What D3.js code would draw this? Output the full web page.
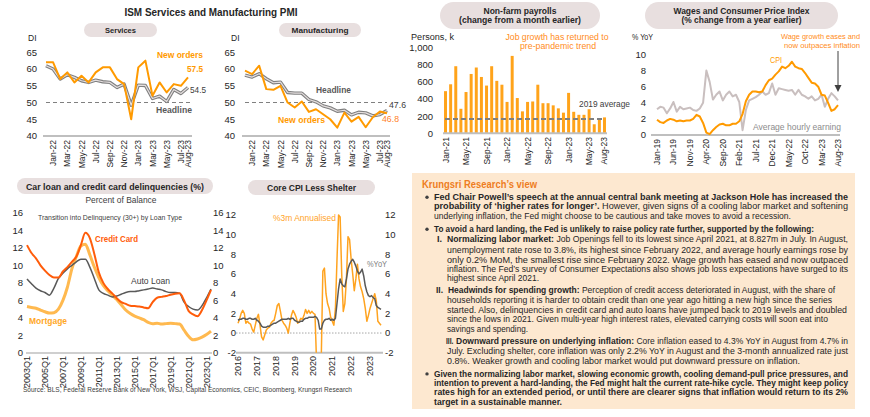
<!DOCTYPE html>
<html>
<head>
<meta charset="utf-8">
<script src="https://cdn.jsdelivr.net/npm/d3@7"></script>
<style>
  body { margin: 0; background: #fff; }
  svg { display: block; font-family: "Liberation Sans", Arial, sans-serif; }
</style>
</head>
<body>
<script>
// ---------- data ----------
const pmiMonths = ['Dec-21','Jan-22','Feb-22','Mar-22','Apr-22','May-22','Jun-22','Jul-22','Aug-22','Sep-22','Oct-22',
  'Nov-22','Dec-22','Jan-23','Feb-23','Mar-23','Apr-23','May-23','Jun-23','Jul-23','Aug-23'];
const pmiTicks = ['Jan-22','Mar-22','May-22','Jul-22','Sep-22','Nov-22','Jan-23','Mar-23','May-23','Jul-23','Aug-23'];
const svcHeadline = [61.0,60.0,57.0,58.3,57.5,56.5,56.0,56.7,56.2,56.0,54.5,55.5,49.2,55.2,55.1,51.2,51.9,50.3,53.9,52.7,54.5];
const svcNewOrders = [62.0,62.0,57.0,59.0,56.0,58.0,56.0,59.0,60.5,60.5,57.0,55.5,45.0,60.5,62.5,52.0,56.0,53.0,55.5,55.0,57.5];
const mfgHeadline = [58.2,57.6,58.6,57.1,55.9,56.1,53.0,52.8,52.8,50.9,50.2,49.0,48.4,47.4,47.7,46.3,47.1,46.9,46.0,46.4,47.6];
const mfgNewOrders = [59.5,58.5,61.0,54.0,53.8,55.0,50.0,48.5,50.3,47.2,48.0,46.5,45.0,42.5,47.0,44.3,45.7,42.6,45.6,47.3,46.8];

const nfpMonths = ['Jan-21','Feb-21','Mar-21','Apr-21','May-21','Jun-21','Jul-21','Aug-21','Sep-21','Oct-21','Nov-21','Dec-21',
  'Jan-22','Feb-22','Mar-22','Apr-22','May-22','Jun-22','Jul-22','Aug-22','Sep-22','Oct-22','Nov-22','Dec-22',
  'Jan-23','Feb-23','Mar-23','Apr-23','May-23','Jun-23','Jul-23','Aug-23'];
const nfpTicks = ['Jan-21','May-21','Sep-21','Jan-22','May-22','Sep-22','Jan-23','May-23','Aug-23'];
const nfpChange = [490,570,780,285,480,690,765,655,555,780,610,565,365,900,410,255,365,370,565,350,350,325,290,240,
  470,250,215,215,280,105,155,185];
const nfpAvg2019 = 165;

const wageMonths = ['Jan-19','Feb-19','Mar-19','Apr-19','May-19','Jun-19','Jul-19','Aug-19','Sep-19','Oct-19','Nov-19','Dec-19',
  'Jan-20','Feb-20','Mar-20','Apr-20','May-20','Jun-20','Jul-20','Aug-20','Sep-20','Oct-20','Nov-20','Dec-20',
  'Jan-21','Feb-21','Mar-21','Apr-21','May-21','Jun-21','Jul-21','Aug-21','Sep-21','Oct-21','Nov-21','Dec-21',
  'Jan-22','Feb-22','Mar-22','Apr-22','May-22','Jun-22','Jul-22','Aug-22','Sep-22','Oct-22','Nov-22','Dec-22',
  'Jan-23','Feb-23','Mar-23','Apr-23','May-23','Jun-23','Jul-23','Aug-23'];
const wageTicks = ['Jan-19','Jun-19','Nov-19','Apr-20','Sep-20','Feb-21','Jul-21','Dec-21','May-22','Oct-22','Mar-23','Aug-23'];
const cpiYoY = [1.9,1.6,1.5,1.8,2.0,1.9,1.7,1.8,1.7,1.8,1.8,2.0,
  2.5,2.3,1.5,0.3,0.1,0.6,1.0,1.3,1.4,1.2,1.2,1.4,
  1.4,1.7,2.6,4.2,5.0,5.4,5.4,5.3,5.4,6.2,6.8,7.0,
  7.5,7.9,8.5,8.3,8.6,9.1,8.5,8.3,8.2,7.7,7.1,6.5,
  6.4,6.0,5.0,4.9,4.0,3.0,3.2,3.7];
const aheYoY = [3.2,3.5,3.4,2.7,3.3,4.1,2.9,3.5,3.2,3.3,3.4,3.1,
  3.0,3.3,4.0,8.0,6.6,4.4,5.0,5.4,4.3,5.0,5.4,4.8,
  5.0,4.1,0.6,3.1,4.3,4.5,4.7,5.0,5.4,5.0,5.2,6.4,
  5.0,5.8,5.7,5.6,5.5,5.6,5.0,5.6,5.0,4.8,4.5,4.8,
  4.3,4.5,5.0,3.5,4.5,5.2,4.8,4.3];

const loanPeriods = ['2003Q1','2003Q3','2004Q1','2004Q3','2005Q1','2005Q3','2006Q1','2006Q3','2007Q1','2007Q3',
  '2008Q1','2008Q3','2009Q1','2009Q3','2010Q1','2010Q3','2011Q1','2011Q3','2012Q1','2012Q3',
  '2013Q1','2013Q3','2014Q1','2014Q3','2015Q1','2015Q3','2016Q1','2016Q3','2017Q1','2017Q3',
  '2018Q1','2018Q3','2019Q1','2019Q3','2020Q1','2020Q3','2021Q1','2021Q3','2022Q1','2022Q3','2023Q1','2023Q2'];
const loanTicks = ['2003Q1','2005Q1','2007Q1','2009Q1','2011Q1','2013Q1','2015Q1','2017Q1','2019Q1','2021Q1','2023Q1'];
const creditCard = [12.3,11.4,10.8,10.0,9.4,8.9,8.6,8.6,9.3,9.8,10.4,11.0,12.3,13.7,13.1,11.3,9.2,8.0,7.3,6.8,
  6.25,5.8,5.6,5.4,5.35,5.3,5.2,5.1,5.8,6.3,6.4,6.5,6.65,6.75,6.8,6.0,4.8,4.4,4.2,4.9,6.0,7.2];
const autoLoan = [8.45,7.9,7.4,7.1,6.9,6.6,7.4,8.5,9.1,9.6,10.0,10.4,10.7,10.7,9.8,8.5,7.2,6.8,6.6,6.4,
  6.5,6.7,6.9,7.0,7.0,7.1,7.2,7.3,7.4,7.3,7.2,7.0,6.9,6.9,6.8,5.8,5.3,5.0,4.9,5.4,6.3,7.3];
const mortgage = [5.3,5.2,5.1,4.9,4.7,4.55,4.6,5.0,6.0,7.5,9.6,11.0,12.2,12.4,11.2,9.8,8.6,7.7,7.1,6.6,
  6.1,5.5,4.9,4.5,4.2,4.0,3.8,3.5,3.35,3.4,3.3,3.35,3.4,3.35,3.3,2.6,1.9,1.5,1.6,1.8,2.1,2.5];

const coreMonths = ('Jan-16 Feb-16 Mar-16 Apr-16 May-16 Jun-16 Jul-16 Aug-16 Sep-16 Oct-16 Nov-16 Dec-16 ' +
  'Jan-17 Feb-17 Mar-17 Apr-17 May-17 Jun-17 Jul-17 Aug-17 Sep-17 Oct-17 Nov-17 Dec-17 ' +
  'Jan-18 Feb-18 Mar-18 Apr-18 May-18 Jun-18 Jul-18 Aug-18 Sep-18 Oct-18 Nov-18 Dec-18 ' +
  'Jan-19 Feb-19 Mar-19 Apr-19 May-19 Jun-19 Jul-19 Aug-19 Sep-19 Oct-19 Nov-19 Dec-19 ' +
  'Jan-20 Feb-20 Mar-20 Apr-20 May-20 Jun-20 Jul-20 Aug-20 Sep-20 Oct-20 Nov-20 Dec-20 ' +
  'Jan-21 Feb-21 Mar-21 Apr-21 May-21 Jun-21 Jul-21 Aug-21 Sep-21 Oct-21 Nov-21 Dec-21 ' +
  'Jan-22 Feb-22 Mar-22 Apr-22 May-22 Jun-22 Jul-22 Aug-22 Sep-22 Oct-22 Nov-22 Dec-22 ' +
  'Jan-23 Feb-23 Mar-23 Apr-23 May-23 Jun-23 Jul-23 Aug-23').split(' ');
const coreTicks = ['Jan-16','Jan-17','Jan-18','Jan-19','Jan-20','Jan-21','Jan-22','Jan-23'];
const coreTickLabels = ['2016','2017','2018','2019','2020','2021','2022','2023'];
const core3mAnn = [1.0,1.4,2.0,2.3,2.0,1.0,1.2,1.0,0.9,0.4,0.1,0.8,
  1.5,1.9,0.8,-0.4,-0.7,-0.2,0.3,0.5,0.6,1.0,1.2,1.3,
  2.0,2.8,3.0,2.2,1.3,1.0,0.8,0.5,0.0,1.0,1.8,2.3,
  2.0,1.6,1.0,1.2,1.5,1.4,1.8,2.4,2.0,2.3,2.0,2.2,
  2.0,1.9,-3.0,-4.0,-4.5,-2.5,6.3,6.6,4.0,3.0,2.5,1.6,
  1.2,0.8,2.5,7.5,12.0,11.8,6.0,2.2,3.0,5.5,9.8,9.5,
  7.5,6.0,4.3,5.5,7.0,5.5,4.7,4.2,3.5,2.5,1.2,1.8,
  2.5,3.0,3.5,4.0,3.3,1.2,1.0,0.8];
const coreYoY = [1.3,1.4,1.4,1.5,1.5,1.4,1.4,1.5,1.5,1.4,1.4,1.5,
  1.3,1.2,1.0,0.7,0.6,0.6,0.6,0.7,0.7,0.8,0.9,1.0,
  1.0,1.1,1.2,1.3,1.4,1.4,1.4,1.4,1.5,1.4,1.5,1.5,
  1.3,1.2,1.1,1.1,1.2,1.2,1.4,1.5,1.5,1.6,1.6,1.6,
  1.6,1.7,1.6,1.3,0.4,0.4,1.0,1.3,1.4,1.4,1.5,1.3,
  1.4,1.3,1.5,3.0,4.5,5.5,5.0,4.8,4.7,5.5,6.5,7.0,
  7.3,7.5,7.2,6.8,6.3,6.0,6.2,6.5,5.8,4.8,4.2,3.8,
  3.7,3.8,3.6,3.5,2.8,2.6,2.5,2.4];

// ---------- helpers ----------
const ORANGE = '#ff9a00';
const DARK = '#595959';
const AXIS = '#bfbfbf';
const TXT = '#262626';

const svg = d3.select('body').append('svg').attr('width', 870).attr('height', 417);

function label(g, x, y, text, { size = 9, weight = 'normal', fill = TXT, anchor = 'start', len = null } = {}) {
  const t = g.append('text')
    .attr('x', x).attr('y', y)
    .attr('font-size', size).attr('font-weight', weight)
    .attr('fill', fill).attr('text-anchor', anchor)
    .text(text);
  if (len) t.attr('textLength', len).attr('lengthAdjust', 'spacingAndGlyphs');
  return t;
}

function pill(x, y, w, h, lines) {
  const g = svg.append('g').classed('pill', true);
  g.append('rect')
    .attr('x', x).attr('y', y).attr('width', w).attr('height', h)
    .attr('rx', h / 2).attr('fill', '#e8dfdf');
  lines.forEach((l) =>
    label(g, x + w / 2, l.y, l.text, { size: l.size, weight: 'bold', anchor: 'middle', len: l.len }),
  );
}

function yLabels(g, scale, values, x, anchor, fmt = (d) => d) {
  g.selectAll(null)
    .data(values)
    .join('text')
    .attr('x', x)
    .attr('y', (d) => scale(d) + 3.4)
    .attr('text-anchor', anchor)
    .attr('font-size', 9.5)
    .attr('fill', TXT)
    .text(fmt);
}

function xLabels(g, pos, ticks, texts, y, size) {
  g.selectAll(null)
    .data(ticks)
    .join('text')
    .attr('transform', (d) => `translate(${pos(d) + 3},${y}) rotate(-90)`)
    .attr('text-anchor', 'end')
    .attr('font-size', size)
    .attr('fill', TXT)
    .text((d, i) => texts[i]);
}

function hline(g, x1, x2, y, stroke, width, dash) {
  g.append('line')
    .attr('x1', x1).attr('x2', x2).attr('y1', y).attr('y2', y)
    .attr('stroke', stroke).attr('stroke-width', width)
    .attr('stroke-dasharray', dash || null);
}

function series(g, x, y, cats, vals, stroke, width, curve = d3.curveLinear) {
  const gen = d3.line().x((d, i) => x(cats[i])).y((d) => y(d)).curve(curve);
  g.append('path')
    .datum(vals)
    .attr('d', gen)
    .attr('fill', 'none')
    .attr('stroke', stroke)
    .attr('stroke-width', width)
    .attr('stroke-linejoin', 'round');
}

// headline lines are drawn as grey double strokes
function doubleSeries(g, x, y, cats, vals) {
  series(g, x, y, cats, vals, '#808080', 3.4);
  series(g, x, y, cats, vals, '#e4dede', 1.2);
}

// ---------- ISM title ----------
label(svg, 211, 16, 'ISM Services and Manufacturing PMI', { size: 11, weight: 'bold', anchor: 'middle', len: 173 });

// ---------- Services ----------
{
  pill(84, 23, 73, 14, [{ text: 'Services', y: 33, size: 8, len: 31 }]);
  const g = svg.append('g');
  const x = d3.scalePoint().domain(pmiMonths).range([46, 188]);
  const y = d3.scaleLinear().domain([40, 65]).range([136, 52.3]);
  label(g, 28, 41, 'DI', { size: 8.5 });
  yLabels(g, y, [40, 45, 50, 55, 60, 65], 37, 'end');
  hline(g, 43, 192, y(40), AXIS, 2);
  hline(g, 46, 190, y(50), '#808080', 1.2, '4,3');
  doubleSeries(g, x, y, pmiMonths, svcHeadline);
  series(g, x, y, pmiMonths, svcNewOrders, ORANGE, 2);
  xLabels(g, x, pmiTicks, pmiTicks, 140, 8.5);
  label(g, 180, 58, 'New orders', { size: 9.5, weight: 'bold', fill: ORANGE, anchor: 'middle', len: 46 });
  label(g, 187, 72, '57.5', { size: 9.5, weight: 'bold', fill: ORANGE, len: 16 });
  label(g, 190, 93, '54.5', { size: 9.5, fill: '#404040', len: 16 });
  label(g, 156, 113, 'Headline', { size: 9.5, weight: 'bold', fill: DARK, len: 36 });
}

// ---------- Manufacturing ----------
{
  pill(279, 23, 82, 14, [{ text: 'Manufacturing', y: 33, size: 8, len: 57 }]);
  const g = svg.append('g');
  const x = d3.scalePoint().domain(pmiMonths).range([245, 387]);
  const y = d3.scaleLinear().domain([40, 65]).range([136, 52.3]);
  label(g, 231, 41, 'DI', { size: 8.5 });
  yLabels(g, y, [40, 45, 50, 55, 60, 65], 235, 'end');
  hline(g, 242, 390, y(40), AXIS, 2);
  hline(g, 245, 387, y(50), '#808080', 1.2, '4,3');
  doubleSeries(g, x, y, pmiMonths, mfgHeadline);
  series(g, x, y, pmiMonths, mfgNewOrders, ORANGE, 2);
  xLabels(g, x, pmiTicks, pmiTicks, 140, 8.5);
  label(g, 316, 93, 'Headline', { size: 9.5, weight: 'bold', fill: DARK, len: 35 });
  label(g, 278, 123, 'New orders', { size: 9.5, weight: 'bold', fill: ORANGE, len: 47 });
  label(g, 389, 108, '47.6', { size: 9.5, fill: '#404040', len: 17 });
  label(g, 382, 121.5, '46.8', { size: 9.5, fill: '#ff7f27', len: 17 });
}

// ---------- Non-farm payrolls ----------
{
  pill(440, 2, 160, 27, [
    { text: 'Non-farm payrolls', y: 13.5, size: 8.5, len: 73 },
    { text: '(change from a month earlier)', y: 23, size: 8.5, len: 122 },
  ]);
  const g = svg.append('g');
  const x = d3.scaleBand().domain(nfpMonths).range([443, 607]).paddingInner(0.42).paddingOuter(0.2);
  const y = d3.scaleLinear().domain([0, 1000]).range([133.3, 47.3]);
  label(g, 411, 40, 'Persons, k', { size: 8.5, len: 43 });
  yLabels(g, y, [0, 200, 400, 600, 800, 1000], 433, 'end', d3.format(','));
  g.selectAll('.bar')
    .data(nfpChange)
    .join('rect')
    .classed('bar', true)
    .attr('x', (d, i) => x(nfpMonths[i]))
    .attr('width', x.bandwidth())
    .attr('y', (d) => y(d))
    .attr('height', (d) => y(0) - y(d))
    .attr('fill', '#ffa31a');
  hline(g, 443, 607, y(0), AXIS, 2);
  hline(g, 445, 605, y(nfpAvg2019), '#7f7f7f', 2, '5,3');
  xLabels(g, (d) => x(d) + x.bandwidth() / 2, nfpTicks, nfpTicks, 137, 8.5);
  label(g, 557, 39.5, 'Job growth has returned to', { size: 8.8, fill: '#ff8c1a', anchor: 'middle', len: 103 });
  label(g, 558, 48.5, 'pre-pandemic trend', { size: 8.8, fill: '#ff8c1a', anchor: 'middle', len: 76 });
  label(g, 579, 107, '2019 average', { size: 9.5, fill: '#404040', len: 51 });
}

// ---------- Wages and CPI ----------
{
  pill(645, 2, 193, 27, [
    { text: 'Wages and Consumer Price Index', y: 13.5, size: 8.5, len: 136 },
    { text: '(% change from a year earlier)', y: 23, size: 8.5, len: 120 },
  ]);
  const g = svg.append('g');
  const x = d3.scalePoint().domain(wageMonths).range([657, 838]);
  const y = d3.scaleLinear().domain([0, 10]).range([135, 54.5]);
  label(g, 632, 40, '% YoY', { size: 8.5, len: 21 });
  yLabels(g, y, [0, 2, 4, 6, 8, 10], 646, 'end');
  hline(g, 651, 840, y(0), AXIS, 2);
  series(g, x, y, wageMonths, aheYoY, '#c9bfbf', 2);
  series(g, x, y, wageMonths, cpiYoY, ORANGE, 2);
  xLabels(g, x, wageTicks, wageTicks, 139, 8.5);
  label(g, 781, 38.5, 'Wage growth eases and', { size: 8, fill: '#ff8c1a', len: 79 });
  label(g, 784, 47.5, 'now outpaces inflation', { size: 8, fill: '#ff8c1a', len: 76 });
  label(g, 770, 63, 'CPI', { size: 9.5, fill: ORANGE, len: 12 });
  label(g, 753, 129.5, 'Average hourly earning', { size: 9.5, fill: '#8c8c8c', len: 88 });
  g.append('line').attr('x1', 838).attr('x2', 838).attr('y1', 51).attr('y2', 86)
    .attr('stroke', '#404040').attr('stroke-width', 1);
  g.append('path').attr('d', 'M834.5,85 L841.5,85 L838,92 Z').attr('fill', '#404040');
}

// ---------- Car loan and credit card delinquencies ----------
{
  pill(17, 178, 196, 16, [{ text: 'Car loan and credit card delinquencies (%)', y: 189.5, size: 9.5, len: 178 }]);
  const g = svg.append('g');
  const x = d3.scalePoint().domain(loanPeriods).range([27, 211]);
  const y = d3.scaleLinear().domain([0, 16]).range([353, 212.7]);
  label(g, 121, 203, 'Percent of Balance', { size: 9, fill: '#404040', anchor: 'middle', len: 71 });
  label(g, 110, 219.5, 'Transition into Delinquency (30+) by Loan Type', { size: 6.5, fill: '#404040', anchor: 'middle', len: 144 });
  const ticks = [0, 2, 4, 6, 8, 10, 12, 14, 16];
  yLabels(g, y, ticks, 23, 'end');
  yLabels(g, y, ticks, 213, 'start');
  hline(g, 26, 212, y(0), AXIS, 1.5);
  series(g, x, y, loanPeriods, mortgage, '#ffb94f', 3, d3.curveMonotoneX);
  series(g, x, y, loanPeriods, autoLoan, DARK, 1.5, d3.curveMonotoneX);
  series(g, x, y, loanPeriods, creditCard, '#ff5c0a', 2, d3.curveMonotoneX);
  xLabels(g, x, loanTicks, loanTicks, 356, 9);
  label(g, 95, 242, 'Credit Card', { size: 9.5, weight: 'bold', fill: '#ff5c0a', len: 43 });
  label(g, 131, 283.5, 'Auto Loan', { size: 9.5, fill: '#404040', len: 39 });
  label(g, 29, 324, 'Mortgage', { size: 9.5, weight: 'bold', fill: '#ffa726', len: 38 });
}

// ---------- Core CPI less shelter ----------
{
  pill(248, 180, 127, 15, [{ text: 'Core CPI Less Shelter', y: 191, size: 9, len: 89 }]);
  const g = svg.append('g');
  const x = d3.scalePoint().domain(coreMonths).range([238, 381]);
  const y = d3.scaleLinear().domain([-2, 12]).range([352.7, 215]);
  svg.append('clipPath').attr('id', 'coreclip')
    .append('rect').attr('x', 230).attr('y', 205).attr('width', 160).attr('height', 352.7 - 205);
  const ticks = [-2, 0, 2, 4, 6, 8, 10, 12];
  yLabels(g, y, ticks, 236, 'end');
  yLabels(g, y, ticks, 385, 'start');
  hline(g, 236, 383, y(-2), AXIS, 2);
  hline(g, 236, 383, y(0), '#a6a6a6', 1, '1.5,1.5');
  const lines = g.append('g').attr('clip-path', 'url(#coreclip)');
  series(lines, x, y, coreMonths, core3mAnn, '#ffa31f', 1.5);
  series(lines, x, y, coreMonths, coreYoY, DARK, 1.5);
  xLabels(g, x, coreTicks, coreTickLabels, 356, 9);
  label(g, 273, 221, '%3m Annualised', { size: 9.5, fill: '#ffa31f', len: 63 });
  label(g, 367, 267, '%YoY', { size: 9.5, fill: '#808080', len: 20 });
}

label(svg, 23, 392, 'Source: BLS, Federal Reserve Bank of New York, WSJ, Capital Economics, CEIC, Bloomberg, Krungsri Research',
  { size: 7.2, fill: '#404040', len: 329 });

// ---------- Krungsri Research's view ----------
const viewLines = [
  { x: 434, y: 200, w: 414, bullet: true, segs: [['Fed Chair Powell’s speech at the annual central bank meeting at Jackson Hole has increased the', 1]] },
  { x: 434, y: 208.8, w: 414, segs: [['probability of ‘higher rates for longer’.', 1], [' However, given signs of a cooling labor market and softening', 0]] },
  { x: 434, y: 218.5, w: 357, segs: [['underlying inflation, the Fed might choose to be cautious and take moves to avoid a recession.', 0]] },
  { x: 434, y: 232, w: 380, bullet: true, segs: [['To avoid a hard landing, the Fed is unlikely to raise policy rate further, supported by the following:', 1]] },
  { x: 447, y: 242, w: 401, num: ['I.', 437, 5], segs: [['Normalizing labor market:', 1], [' Job Openings fell to its lowest since April 2021, at 8.827m in July. In August,', 0]] },
  { x: 447, y: 253.4, w: 401, segs: [['unemployment rate rose to 3.8%, its highest since February 2022, and average hourly earnings rose by', 0]] },
  { x: 447, y: 262.7, w: 401, segs: [['only 0.2% MoM, the smallest rise since February 2022. Wage growth has eased and now outpaced', 0]] },
  { x: 447, y: 272, w: 401, segs: [['inflation. The Fed’s survey of Consumer Expectations also shows job loss expectations have surged to its', 0]] },
  { x: 447, y: 281.4, w: 92, segs: [['highest since April 2021.', 0]] },
  { x: 448, y: 293.4, w: 387, num: ['II.', 436, 7], segs: [['Headwinds for spending growth:', 1], [' Perception of credit access deteriorated in August, with the share of', 0]] },
  { x: 447, y: 303.4, w: 385, segs: [['households reporting it is harder to obtain credit than one year ago hitting a new high since the series', 0]] },
  { x: 447, y: 312.7, w: 400, segs: [['started. Also, delinquencies in credit card and auto loans have jumped back to 2019 levels and doubled', 0]] },
  { x: 447, y: 322, w: 381, segs: [['since the lows in 2021. Given multi-year high interest rates, elevated carrying costs will soon eat into', 0]] },
  { x: 447, y: 332, w: 81, segs: [['savings and spending.', 0]] },
  { x: 456, y: 344.4, w: 392, num: ['III.', 446, 7.5], segs: [['Downward pressure on underlying inflation:', 1], [' Core inflation eased to 4.3% YoY in August from 4.7% in', 0]] },
  { x: 447, y: 354.4, w: 401, segs: [['July. Excluding shelter, core inflation was only 2.2% YoY in August and the 3-month annualized rate just', 0]] },
  { x: 447, y: 363.7, w: 353, segs: [['0.8%. Weaker growth and cooling labor market would put downward pressure on inflation.', 0]] },
  { x: 434, y: 376.7, w: 414, bullet: true, segs: [['Given the normalizing labor market, slowing economic growth, cooling demand-pull price pressures, and', 1]] },
  { x: 434, y: 386, w: 414, segs: [['intention to prevent a hard-landing, the Fed might halt the current rate-hike cycle. They might keep policy', 1]] },
  { x: 434, y: 395.4, w: 414, segs: [['rates high for an extended period, or until there are clearer signs that inflation would return to its 2%', 1]] },
  { x: 434, y: 404.7, w: 128, segs: [['target in a sustainable manner.', 1]] },
];

{
  const g = svg.append('g').classed('view', true);
  g.append('rect').attr('x', 412).attr('y', 173).attr('width', 443).attr('height', 236).attr('fill', '#fde8d0');
  label(g, 422, 188, 'Krungsri Research’s view', { size: 11, weight: 'bold', fill: '#ee7d22', len: 115 });
  viewLines.forEach((l) => {
    if (l.bullet) g.append('circle').attr('cx', 427).attr('cy', l.y - 2.8).attr('r', 1.7).attr('fill', '#404040');
    if (l.num) label(g, l.num[1], l.y, l.num[0], { size: 8.2, weight: 'bold', len: l.num[2] });
    const t = g.append('text')
      .attr('x', l.x).attr('y', l.y)
      .attr('font-size', 8.2).attr('fill', TXT)
      .attr('textLength', l.w).attr('lengthAdjust', 'spacingAndGlyphs')
      .attr('xml:space', 'preserve');
    l.segs.forEach(([s, b]) => t.append('tspan').attr('font-weight', b ? 'bold' : 'normal').text(s));
  });
}
</script>
</body>
</html>
